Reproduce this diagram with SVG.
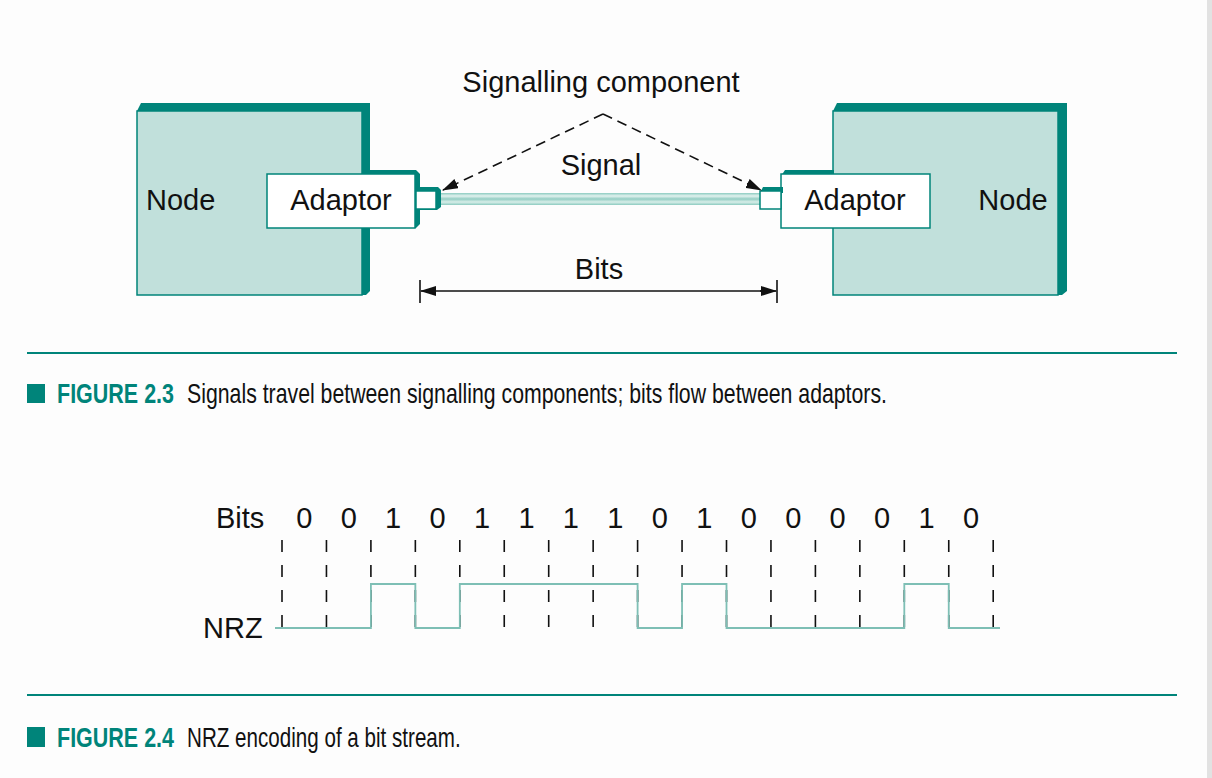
<svg xmlns="http://www.w3.org/2000/svg" width="1212" height="778" viewBox="0 0 1212 778">
<style>
.lbl{font-family:"Liberation Sans",Arial,sans-serif;font-size:29px;fill:#111}
.dk{fill:#00847a}
.face{fill:#c1e0db;stroke:#00847a;stroke-width:1.5}
.wh{fill:#fff;stroke:#00847a;stroke-width:1.5}
.dash{stroke:#111;stroke-width:1.6;stroke-dasharray:12 13}
.rule{stroke:#00847a;stroke-width:2}
.capb{font-family:"Liberation Sans",Arial,sans-serif;font-weight:bold;font-size:28px;fill:#00847a}
.cap{font-family:"Liberation Sans",Arial,sans-serif;font-size:28px;fill:#111}
</style>
<defs>
<linearGradient id="cable" x1="0" y1="0" x2="0" y2="1">
<stop offset="0" stop-color="#8ccbc0"/>
<stop offset="0.25" stop-color="#e2f2ef"/>
<stop offset="0.5" stop-color="#93cdc3"/>
<stop offset="0.75" stop-color="#d8eee9"/>
<stop offset="1" stop-color="#8ccbc0"/>
</linearGradient>
<marker id="ah" viewBox="0 0 16 10" refX="15" refY="5" markerWidth="16" markerHeight="10" markerUnits="userSpaceOnUse" orient="auto">
<path d="M0,0 L16,5 L0,10 Z" fill="#111"/>
</marker>
</defs>
<rect x="0" y="0" width="1212" height="778" fill="#fdfdfd"/>
<rect x="1207" y="0" width="5" height="778" fill="#e2e2e2"/>

<g id="node-left">
<path class="dk" d="M141,103 L370,103 L370,291 L366,295 L362,295 L362,111 L137,111 Z"/>
<rect class="face" x="137" y="111" width="225" height="184"/>
<text class="lbl" x="146" y="210">Node</text>
</g>
<g id="adaptor-left">
<path class="dk" d="M362,170 L416,170 L420,174 L420,224 L416,228 L362,228 Z"/>
<rect class="wh" x="267" y="174" width="148" height="54"/>
<text class="lbl" x="341" y="210" text-anchor="middle">Adaptor</text>
<path class="dk" d="M418,187 L438,187 L441,190 L441,207 L437,210 L418,210 Z"/>
<rect class="wh" x="416" y="191" width="20" height="18"/>
</g>
<g id="signal">
<rect x="441" y="193" width="319" height="12" fill="url(#cable)"/>
<text class="lbl" x="601" y="175" text-anchor="middle">Signal</text>
</g>
<g id="node-right">
<path class="dk" d="M837,103 L1067,103 L1067,291 L1062,295 L1058,295 L1058,111 L833,111 Z"/>
<rect class="face" x="833" y="111" width="225" height="184"/>
<text class="lbl" x="1013" y="210" text-anchor="middle">Node</text>
</g>
<g id="adaptor-right">
<path class="dk" d="M785,170 L834,170 L834,176 L781,176 Z"/>
<rect class="wh" x="781" y="174" width="149" height="54"/>
<text class="lbl" x="855" y="210" text-anchor="middle">Adaptor</text>
<path class="dk" d="M763,187 L783,187 L783,193 L760,193 Z"/>
<rect class="wh" x="760" y="191" width="21" height="18"/>
</g>
<g id="signalling-label">
<text class="lbl" x="601" y="92" text-anchor="middle">Signalling component</text>
</g>
<g id="bits-label">
<text class="lbl" x="599" y="279" text-anchor="middle">Bits</text>
</g>

<g id="connectors" fill="none">
<line x1="603" y1="114" x2="443" y2="190" stroke="#111" stroke-width="1.6" stroke-dasharray="10 6" marker-end="url(#ah)"/>
<line x1="603" y1="114" x2="761" y2="190" stroke="#111" stroke-width="1.6" stroke-dasharray="10 6" marker-end="url(#ah)"/>
<line x1="436" y1="291" x2="421" y2="291" stroke="#111" stroke-width="1.6" marker-end="url(#ah)"/>
<line x1="436" y1="291" x2="761" y2="291" stroke="#111" stroke-width="1.6"/>
<line x1="760" y1="291" x2="776" y2="291" stroke="#111" stroke-width="1.6" marker-end="url(#ah)"/>
<line x1="420" y1="280" x2="420" y2="303" stroke="#111" stroke-width="1.6"/>
<line x1="777" y1="280" x2="777" y2="303" stroke="#111" stroke-width="1.6"/>
</g>

<g id="caption-2-3">
<line class="rule" x1="27" y1="353" x2="1177" y2="353"/>
<rect class="dk" x="27" y="384" width="18" height="19"/>
<text class="capb" transform="translate(57,403) scale(0.77,1)" x="0" y="0" textLength="152" lengthAdjust="spacingAndGlyphs">FIGURE 2.3</text>
<text class="cap" transform="translate(187,403) scale(0.7,1)" x="0" y="0" textLength="1000" lengthAdjust="spacingAndGlyphs">Signals travel between signalling components; bits flow between adaptors.</text>
</g>

<g id="nrz">
<text class="lbl" x="216" y="528">Bits</text>
<text class="lbl" x="203" y="638">NRZ</text>
<g class="lbl" text-anchor="middle">
<text x="304.2" y="528">0</text>
<text x="348.7" y="528">0</text>
<text x="393.1" y="528">1</text>
<text x="437.6" y="528">0</text>
<text x="482" y="528">1</text>
<text x="526.5" y="528">1</text>
<text x="570.9" y="528">1</text>
<text x="615.4" y="528">1</text>
<text x="659.8" y="528">0</text>
<text x="704.3" y="528">1</text>
<text x="748.7" y="528">0</text>
<text x="793.2" y="528">0</text>
<text x="837.6" y="528">0</text>
<text x="882.1" y="528">0</text>
<text x="926.5" y="528">1</text>
<text x="971" y="528">0</text>
</g>
<g id="nrz-ticks">
<line class="dash" x1="282" y1="540" x2="282" y2="629"/>
<line class="dash" x1="326.45" y1="540" x2="326.45" y2="629"/>
<line class="dash" x1="370.9" y1="540" x2="370.9" y2="629"/>
<line class="dash" x1="415.35" y1="540" x2="415.35" y2="629"/>
<line class="dash" x1="459.8" y1="540" x2="459.8" y2="629"/>
<line class="dash" x1="504.25" y1="540" x2="504.25" y2="629"/>
<line class="dash" x1="548.7" y1="540" x2="548.7" y2="629"/>
<line class="dash" x1="593.15" y1="540" x2="593.15" y2="629"/>
<line class="dash" x1="637.6" y1="540" x2="637.6" y2="629"/>
<line class="dash" x1="682.05" y1="540" x2="682.05" y2="629"/>
<line class="dash" x1="726.5" y1="540" x2="726.5" y2="629"/>
<line class="dash" x1="770.95" y1="540" x2="770.95" y2="629"/>
<line class="dash" x1="815.4" y1="540" x2="815.4" y2="629"/>
<line class="dash" x1="859.85" y1="540" x2="859.85" y2="629"/>
<line class="dash" x1="904.3" y1="540" x2="904.3" y2="629"/>
<line class="dash" x1="948.75" y1="540" x2="948.75" y2="629"/>
<line class="dash" x1="993.2" y1="540" x2="993.2" y2="629"/>
</g>
<polyline fill="none" stroke="#7ebfb5" stroke-width="1.8" points="275,628 370.9,628 370.9,584 415.35,584 415.35,628 459.8,628 459.8,584 637.6,584 637.6,628 682.05,628 682.05,584 726.5,584 726.5,628 904.3,628 904.3,584 948.75,584 948.75,628 1000,628"/>
</g>

<g id="caption-2-4">
<line class="rule" x1="27" y1="695" x2="1177" y2="695"/>
<rect class="dk" x="27" y="727" width="18" height="20"/>
<text class="capb" transform="translate(57,747) scale(0.77,1)" x="0" y="0" textLength="152" lengthAdjust="spacingAndGlyphs">FIGURE 2.4</text>
<text class="cap" transform="translate(187,747) scale(0.7,1)" x="0" y="0" textLength="391" lengthAdjust="spacingAndGlyphs">NRZ encoding of a bit stream.</text>
</g>
</svg>
